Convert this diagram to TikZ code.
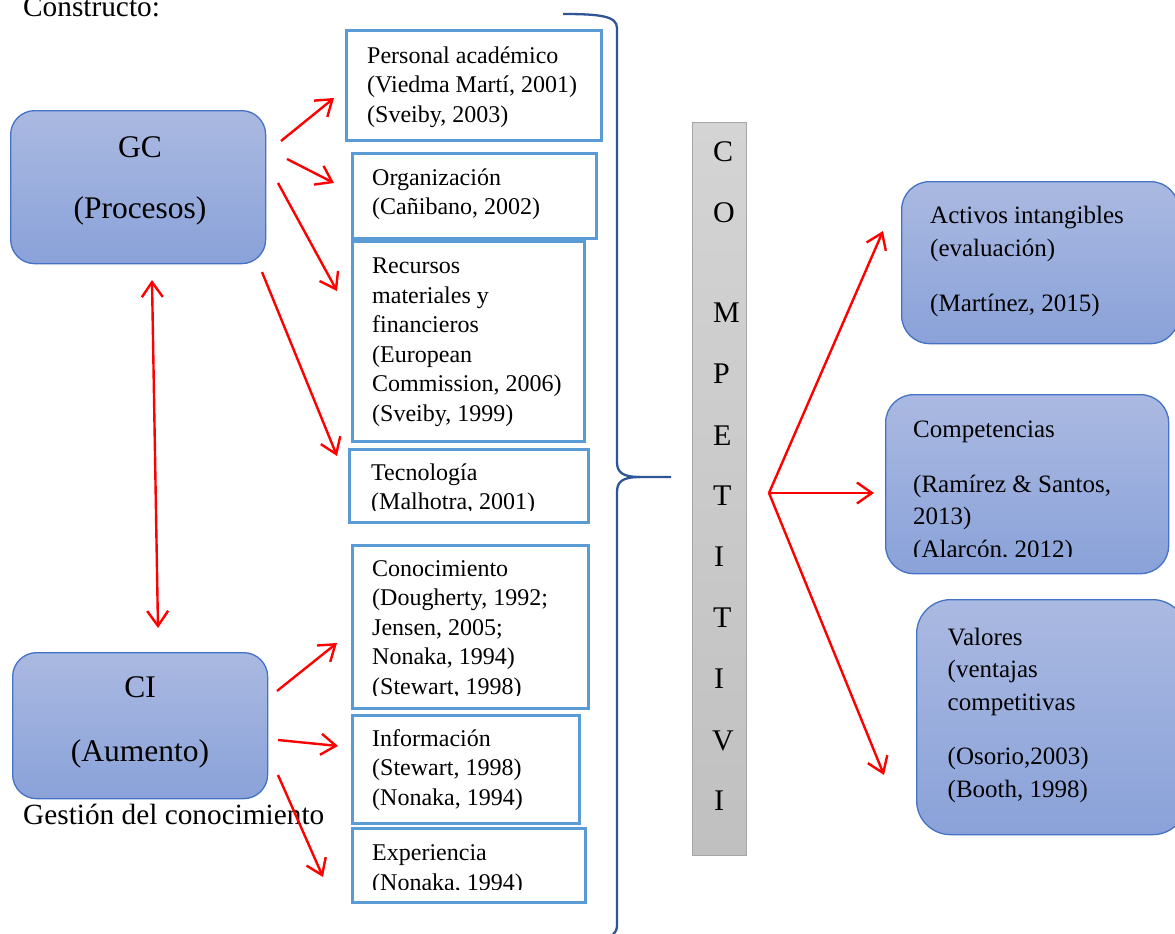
\documentclass[tikz,border=0pt]{standalone}
\usepackage{fontspec}
\setmainfont{Liberation Serif}
\usetikzlibrary{arrows.meta}
\definecolor{redA}{HTML}{FF0000}
\definecolor{boxblue}{HTML}{5B9BD5}
\definecolor{rndborder}{HTML}{4472C4}
\definecolor{rndtop}{HTML}{AAB9E1}
\definecolor{rndbot}{HTML}{8AA2D9}
\definecolor{bracec}{HTML}{2F5597}
\definecolor{bartop}{HTML}{D4D4D4}
\definecolor{barbot}{HTML}{C0C0C0}
\definecolor{barborder}{HTML}{A6A6A6}
\newcommand{\fsRef}{\fontsize{24}{29.5}\selectfont}
\newcommand{\fsRight}{\fontsize{25}{32.5}\selectfont}
\newcommand{\fsBig}{\fontsize{31.5}{38}\selectfont}
\newcommand{\fsMid}{\fontsize{29.3}{35}\selectfont}
\newcommand{\fsBar}{\fontsize{30}{36}\selectfont}
\newcommand{\stA}{\rule{0pt}{20pt}}
\newcommand{\stB}{\rule{0pt}{21pt}}
\begin{document}
\begin{tikzpicture}[x=1pt,y=-1pt,
  refbox/.style={draw=boxblue, line width=2.8pt, fill=white, anchor=north west, inner sep=0pt},
  reftext/.style={font=\fsRef, align=left, anchor=north west, inner sep=0pt},
  rndbox/.style={draw=rndborder, line width=1.3pt, rounded corners=24pt, top color=rndtop, bottom color=rndbot, anchor=north west, inner sep=0pt},
  righttext/.style={font=\fsRight, align=left, anchor=north west, inner sep=0pt},
  bigtext/.style={font=\fsBig, anchor=base, inner sep=0pt},
  bartext/.style={font=\fsBar, anchor=base west, inner sep=0pt},
  redarrow/.style={draw=redA, line width=2.4pt, -{Straight Barb[length=15pt,width=21pt,line width=2.4pt]}},
  reddouble/.style={draw=redA, line width=2.4pt, {Straight Barb[length=15pt,width=21pt,line width=2.4pt]}-{Straight Barb[length=15pt,width=21pt,line width=2.4pt]}},
  bracestyle/.style={draw=bracec, line width=2.3pt}]
\useasboundingbox (0,0) rectangle (1175,934);

% title text
\node[font=\fsMid, anchor=base west, inner sep=0pt] (constructo) at (23,17) {Constructo:};

% left rounded boxes
\node[rndbox, minimum width=255pt, minimum height=153pt] (gc) at (10,110) {};
\node[bigtext] (gct1) at (140,157) {GC};
\node[bigtext] (gct2) at (140,218) {(Procesos)};
\node[rndbox, minimum width=255pt, minimum height=146pt] (ci) at (12,652) {};
\node[bigtext] (cit1) at (140,697.5) {CI};
\node[bigtext] (cit2) at (140,761.5) {(Aumento)};
\node[font=\fsMid, anchor=base west, inner sep=0pt] (gestion) at (23,824) {Gestión del conocimiento};

% reference boxes
\node[refbox, minimum width=255pt, minimum height=110pt] (pa) at (345,29) {};
\node[reftext] (pat) at (367,43) {\stA Personal académico\\(Viedma Martí, 2001)\\(Sveiby, 2003)};

\node[refbox, minimum width=244pt, minimum height=85pt] (org) at (351,152) {};
\node[reftext] (orgt) at (372,165) {\stA Organización\\(Cañibano, 2002)};

\node[refbox, minimum width=232pt, minimum height=200pt] (rec) at (351,240) {};
\node[reftext] (rect) at (372,253.3) {\stA Recursos\\materiales y\\financieros\\(European\\Commission, 2006)\\(Sveiby, 1999)};

\node[refbox, minimum width=239pt, minimum height=73pt] (tec) at (348,448) {};
\begin{scope}
\clip (349,449) rectangle (586,510.5);
\node[reftext] (tect) at (371,460) {\stA Tecnología\\(Malhotra, 2001)};
\end{scope}

\node[refbox, minimum width=236pt, minimum height=163pt] (con) at (351,544) {};
\begin{scope}
\clip (352,545) rectangle (585,695.5);
\node[reftext] (cont) at (372,556) {\stA Conocimiento\\(Dougherty, 1992;\\Jensen, 2005;\\Nonaka, 1994)\\(Stewart, 1998)};
\end{scope}

\node[refbox, minimum width=227pt, minimum height=108pt] (inf) at (351,714) {};
\node[reftext] (inft) at (372,726) {\stA Información\\(Stewart, 1998)\\(Nonaka, 1994)};

\node[refbox, minimum width=233pt, minimum height=74pt] (exp) at (351,827) {};
\begin{scope}
\clip (352,828) rectangle (583,889.5);
\node[reftext] (expt) at (372,840.7) {\stA Experiencia\\(Nonaka, 1994)};
\end{scope}

% brace
\draw[bracestyle] (563,14) .. controls (600,14) and (617,16) .. (617,28) -- (617,462)
  .. controls (617,472) and (622,477) .. (640,477) -- (671,477);
\draw[bracestyle] (640,477) .. controls (622,477) and (617,482) .. (617,492) -- (617,925)
  .. controls (617,929) and (616,932) .. (613,934);

% competitivi bar
\node[draw=barborder, line width=1.3pt, top color=bartop, bottom color=barbot, anchor=north west, inner sep=0pt, minimum width=54pt, minimum height=733pt] (bar) at (692,122) {};
\node[bartext] (l1) at (713,161) {C};
\node[bartext] (l2) at (713,222) {O};
\node[bartext] (l3) at (713,322.5) {M};
\node[bartext] (l4) at (713,383) {P};
\node[bartext] (l5) at (713,445) {E};
\node[bartext] (l6) at (713,505) {T};
\node[bartext] (l7) at (714,566.5) {I};
\node[bartext] (l8) at (713,627) {T};
\node[bartext] (l9) at (714,688) {I};
\node[bartext] (l10) at (712,750) {V};
\node[bartext] (l11) at (714,810) {I};

% right rounded boxes
\node[rndbox, minimum width=277pt, minimum height=162pt, rounded corners=28pt] (act) at (901,181) {};
\node[righttext] (actt) at (930,202.3) {\stB Activos intangibles\\(evaluación)\\[23pt](Martínez, 2015)};

\node[rndbox, minimum width=283pt, minimum height=179pt, rounded corners=28pt] (comp) at (885,394) {};
\begin{scope}
\clip (886,395) rectangle (1167,556);
\node[righttext] (compt) at (913,416.3) {\stB Competencias\\[22pt](Ramírez \& Santos,\\2013)\\(Alarcón, 2012)};
\end{scope}

\node[rndbox, minimum width=270pt, minimum height=235pt, rounded corners=34pt] (val) at (916,599) {};
\node[righttext] (valt) at (947.5,624) {\stB Valores\\(ventajas\\competitivas\\[22pt](Osorio,2003)\\(Booth, 1998)};

% arrow coordinates
\coordinate (a1s) at (281,141); \coordinate (a1e) at (334,98);
\coordinate (a2s) at (287,159); \coordinate (a2e) at (334,183);
\coordinate (a3s) at (278,183); \coordinate (a3e) at (337,291);
\coordinate (a4s) at (262,272); \coordinate (a4e) at (337,456);
\coordinate (b1s) at (277,691); \coordinate (b1e) at (337,643);
\coordinate (b2s) at (278,740); \coordinate (b2e) at (338,746);
\coordinate (b3s) at (278,775); \coordinate (b3e) at (323,877);
\coordinate (dtop) at (152,280); \coordinate (dbot) at (158,628);
\coordinate (cs) at (769,493);
\coordinate (c1e) at (883,231); \coordinate (c2e) at (874,493); \coordinate (c3e) at (884,775);

\draw[redarrow] (a1s) -- (a1e);
\draw[redarrow] (a2s) -- (a2e);
\draw[redarrow] (a3s) -- (a3e);
\draw[redarrow] (a4s) -- (a4e);
\draw[redarrow] (b1s) -- (b1e);
\draw[redarrow] (b2s) -- (b2e);
\draw[redarrow] (b3s) -- (b3e);
\draw[reddouble] (dtop) -- (dbot);
\draw[redarrow] (cs) -- (c1e);
\draw[redarrow] (cs) -- (c2e);
\draw[redarrow] (cs) -- (c3e);
\end{tikzpicture}
\end{document}
